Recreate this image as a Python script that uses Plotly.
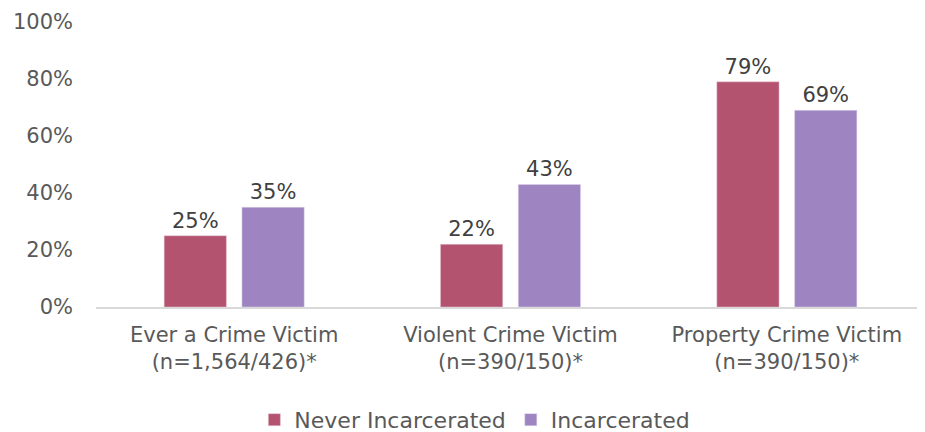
import plotly.graph_objects as go

categories = ["Ever a Crime Victim<br>(n=1,564/426)*",
              "Violent Crime Victim<br>(n=390/150)*",
              "Property Crime Victim<br>(n=390/150)*"]
never_incarcerated = [25, 22, 79]
incarcerated = [35, 43, 69]
tick_vals = [0, 20, 40, 60, 80, 100]
tick_text = ["0%", "20%", "40%", "60%", "80%", "100%"]

FONT = "DejaVu Sans"

fig = go.Figure()
fig.add_trace(go.Bar(
    name="Never Incarcerated", x=categories, y=never_incarcerated,
    marker=dict(color="#B35370", line=dict(color="#E8C6D0", width=0.5)),
    text=[f"{v}%" for v in never_incarcerated], textposition="outside",
    textfont=dict(size=21, color="#404040", family=FONT), cliponaxis=False))
fig.add_trace(go.Bar(
    name="Incarcerated", x=categories, y=incarcerated,
    marker=dict(color="#9E84C0", line=dict(color="#DCD2EA", width=0.5)),
    text=[f"{v}%" for v in incarcerated], textposition="outside",
    textfont=dict(size=21, color="#404040", family=FONT), cliponaxis=False))

# page body has an 8px margin, so the figure is sized to fit the 925x432 window
fig.update_layout(
    width=917, height=424,
    margin=dict(l=88, r=0, t=14, b=125, autoexpand=False),
    paper_bgcolor="white", plot_bgcolor="white",
    barmode="group", bargap=0.437, bargroupgap=0.2,
    font=dict(family=FONT, color="#595959", size=21),
    showlegend=True,
    legend=dict(orientation="h", x=0.457, xanchor="center", y=-0.396, yanchor="middle",
                font=dict(size=22, color="#595959", family=FONT),
                itemwidth=30, traceorder="normal"),
    xaxis=dict(showline=True, linecolor="#D9D9D9", linewidth=1.5, ticks="",
               automargin=False, ticklabelstandoff=8,
               tickfont=dict(size=21, color="#595959", family=FONT)),
    yaxis=dict(range=[0, 100], tickvals=tick_vals, ticktext=tick_text, showgrid=False,
               zeroline=False, showline=False, ticks="", ticklabelstandoff=22,
               automargin=False,
               tickfont=dict(size=21, color="#595959", family=FONT)),
)

fig.write_html("out.html")
